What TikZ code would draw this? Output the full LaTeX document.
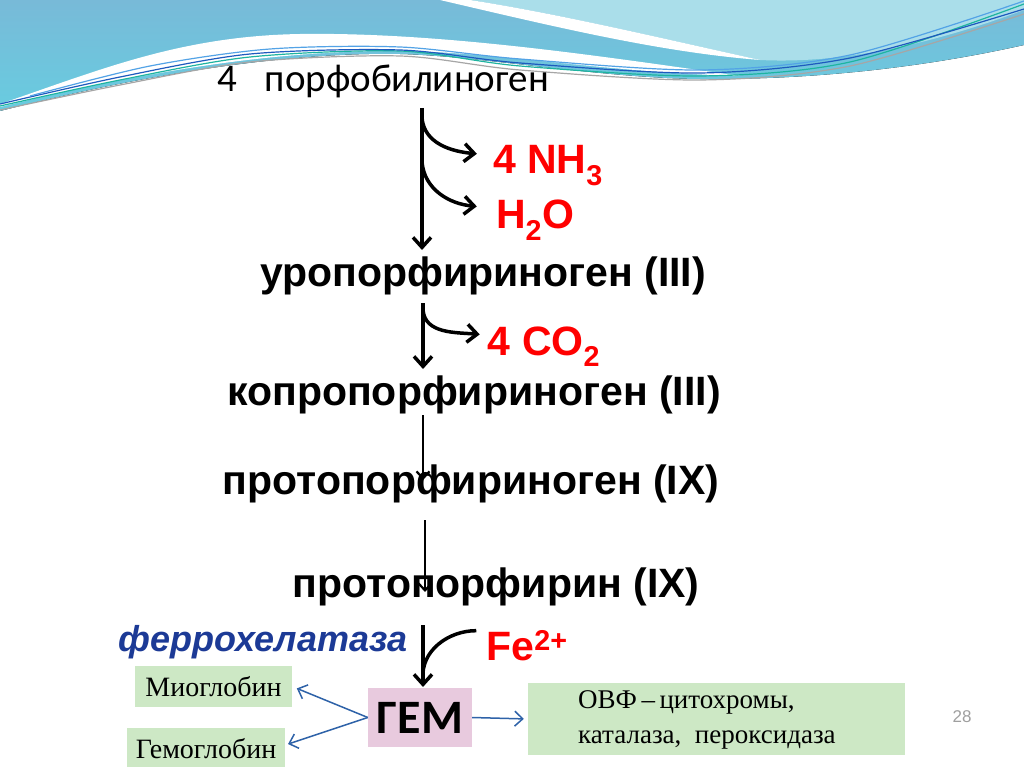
\documentclass[tikz,border=0pt]{standalone}
\usepackage{fontspec}
\setmainfont{Liberation Sans}
\newfontfamily\calibri{Carlito}
\newfontfamily\cambria{Liberation Serif}
\usepackage{xcolor}
\usepackage{tikz}
\usetikzlibrary{arrows.meta}

\definecolor{wavedark}{RGB}{120,186,216}
\definecolor{wavecyan}{RGB}{104,204,224}
\definecolor{wavelight}{RGB}{170,222,234}
\definecolor{waveteal}{RGB}{30,180,160}
\definecolor{waveblue}{RGB}{30,90,190}
\definecolor{boxgreen}{RGB}{205,232,197}
\definecolor{boxpink}{RGB}{232,202,222}
\definecolor{enzblue}{RGB}{28,58,150}
\definecolor{linkblue}{RGB}{46,98,168}

\begin{document}
\begin{tikzpicture}[x=1pt,y=1pt,
    chem/.style={font=\bfseries\fontsize{41}{41}\selectfont, inner sep=0pt, anchor=base},
    gas/.style={chem, text=red},
    flow/.style={line width=3.5pt, -{Straight Barb[length=10pt,width=18pt]}},
    thinflow/.style={line width=2.2pt, -{Straight Barb[length=7pt,width=13pt]}},
    branch/.style={line width=3.5pt},
    target/.style={fill=boxgreen, font=\cambria\fontsize{28}{35}\selectfont, inner sep=0pt},
    link/.style={draw=linkblue, line width=1.5pt, -{Straight Barb[length=8pt,width=15pt]}},
    wave line/.style={line width=1.2pt}]
            \useasboundingbox (0,0) rectangle (1024,-767);
            \fill[white] (0,0) rectangle (1024,-767);

            \fill[top color=wavedark, bottom color=wavecyan]
              (0,0) -- (1024,0) -- (1024,-45)
              .. controls (930,-66) and (820,-80) .. (700,-79)
              .. controls (600,-78) and (480,-56) .. (400,-54)
              .. controls (300,-52) and (160,-70) .. (0,-111) -- cycle;
            \fill[white]
              (0,-104) .. controls (100,-70) and (180,-36) .. (300,-34)
              .. controls (440,-32) and (600,-56) .. (740,-76)
              .. controls (600,-72) and (500,-52) .. (400,-51)
              .. controls (280,-50) and (150,-70) .. (0,-107) -- cycle;
            \fill[wavelight]
              (470,0) -- (1024,0) -- (1024,-10)
              .. controls (930,-45) and (840,-64) .. (760,-60)
              .. controls (660,-38) and (560,-14) .. (470,0) -- cycle;
            \fill[white]
              (440,0) -- (470,0)
              .. controls (560,-14) and (660,-38) .. (760,-60)
              .. controls (660,-52) and (560,-28) .. (440,0) -- cycle;

            \draw[wave line, gray!70] plot[smooth] coordinates
              {(0,-110) (120,-85) (250,-62) (400,-56) (520,-70) (700,-80) (850,-66) (1024,-14)};
            \draw[wave line, waveteal] plot[smooth] coordinates
              {(0,-106) (120,-80) (250,-57) (400,-51) (520,-66) (700,-76) (850,-62) (1024,-4)};
            \draw[wave line, waveblue] plot[smooth] coordinates
              {(0,-104) (120,-77) (250,-54) (400,-50) (520,-63) (700,-73) (850,-58) (1024,-9)};
            \draw[wave line, wavecyan!80!blue] plot[smooth] coordinates
              {(30,-96) (150,-66) (270,-49) (400,-47) (520,-59) (700,-70) (850,-55) (1024,-1)};

            \node[inner sep=0pt, anchor=base, font=\calibri\fontsize{39}{39}\selectfont] at (383,-92) (pbg) {4\hspace{28pt}порфобилиноген};
            \node[gas] at (548,-174) (nh) {4 NH\textsubscript{3}};
            \node[gas] at (535,-229) (water) {H\textsubscript{2}O};
            \node[chem] at (483,-286) (uro) {уропорфириноген (III)};
            \node[gas] at (544,-355) (co) {4 CO\textsubscript{2}};
            \node[chem] at (474,-405) (copro) {копропорфириноген (III)};
            \node[chem] at (471,-494) (protog) {протопорфириноген (IX)};
            \node[chem] at (496,-597) (proto) {протопорфирин (IX)};
            \node[chem, font=\bfseries\itshape\fontsize{36}{36}\selectfont, text=enzblue] at (263,-651) (enz) {феррохелатаза};
            \node[gas] at (527,-660) (fe) {Fe\textsuperscript{2+}};

            \node[fill=boxpink, minimum width=104pt, minimum height=59pt, inner sep=0pt,
                  font=\calibri\bfseries\fontsize{48}{48}\selectfont] at (420,-717.5) (hem) {ГЕМ};
            \node[target, minimum width=157pt, minimum height=41pt] at (213.5,-686.5) (mio) {Миоглобин};
            \node[target, minimum width=158pt, minimum height=42pt] at (206,-749) (hemo) {Гемоглобин};
            \node[fill=boxgreen, minimum width=377pt, minimum height=72pt] at (716.5,-719) (ovf) {};
            \node[target, fill=none, align=left, anchor=north west, font=\cambria\fontsize{27}{35}\selectfont] at (578,-690) (ovftext)
              {ОВФ\,–\,цитохромы,\\каталаза,\ \ пероксидаза};
            \node[text=gray!75, font=\fontsize{17}{17}\selectfont] at (962,-717) (page) {28};

            \coordinate (a1) at (422,-108);
            \coordinate (a2) at (422,-250);
            \coordinate (b1) at (422,-118);
            \coordinate (b2) at (422,-162);
            \draw[flow] (a1) -- (a2);
            \draw[flow] (b1) to[out=-85,in=175] ([xshift=-16pt,yshift=12pt]nh.west);
            \draw[flow] (b2) to[out=-85,in=175] ([xshift=-19pt,yshift=14pt]water.west);

            \coordinate (c1) at (423,-303);
            \coordinate (c2) at (423,-369);
            \coordinate (c3) at (423,-310);
            \draw[flow] (c1) -- (c2);
            \draw[flow] (c3) to[out=-85,in=175] ([xshift=-8pt,yshift=12pt]co.west);

            \coordinate (d1) at (423,-415);
            \coordinate (d2) at (423,-480);
            \draw[thinflow] (d1) -- (d2);
            \coordinate (e1) at (425,-520);
            \coordinate (e2) at (425,-592);
            \draw[thinflow] (e1) -- (e2);

            \coordinate (f1) at (423,-625);
            \coordinate (f2) at (423,-687);
            \draw[flow] (f1) -- (f2);
            \draw[branch] ([xshift=-10pt,yshift=15pt]fe.west) to[out=180,in=95] ([yshift=8pt]f2);

            \draw[link, shorten >=5pt] (hem.west) -- (mio.east);
            \draw[link, shorten >=3pt] (hem.west) -- ([yshift=4pt]hemo.east);
            \draw[link, shorten >=4pt] (hem.east) -- (ovf.west);
        \end{tikzpicture}
\end{document}
